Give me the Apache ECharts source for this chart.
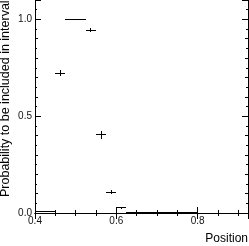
<!DOCTYPE html>
<html><head><meta charset="utf-8">
<script src="https://cdn.jsdelivr.net/npm/echarts@6/dist/echarts.min.js"></script>
<style>html,body{margin:0;padding:0;background:#fff}#c{width:249px;height:246px}</style>
</head><body><div id="c"></div>
<script>
// Histogram bins (lower edges), fixed bin width
const binLow = [0.400,0.425,0.450,0.475,0.500,0.525,0.550,0.575,0.600,0.625,0.650,0.675,0.700,0.725,0.750,0.775];
const binWidth = 0.025;
const probability = [0.007,0.007,0.723,1.000,1.000,0.945,0.404,0.108,0.028,0.003,0.003,0.003,0.003,0.003,0.003,0.003];
const probError   = [0.000,0.000,0.014,0.000,0.000,0.012,0.020,0.010,0.005,0.000,0.000,0.000,0.000,0.000,0.000,0.000];
const xTickLabels = ['0.4','0.6','0.8'];
const yTickLabels = ['0.0','0.5','1.0'];
const xTitle = 'Position';
const yTitle = 'Probability to be included in interval';

const data = binLow.map((lo, i) => [lo, lo + binWidth, probability[i], probError[i]]);

function pickLabel(list, v) {
  const f = list.find(l => Math.abs(parseFloat(l) - v) < 1e-6);
  return f === undefined ? '' : f;
}
const snap = v => Math.round(v - 0.5) + 0.5;

function renderItem(params, api) {
  const lo = api.value(0), hi = api.value(1), v = api.value(2), e = api.value(3);
  const a = api.coord([lo, v]), b = api.coord([hi, v]);
  const mid = (lo + hi) / 2;
  const t = api.coord([mid, v + e]), d = api.coord([mid, v - e]);
  const y = snap(a[1]);
  const xm = snap(t[0]);
  const children = [{
    type: 'line',
    shape: { x1: Math.round(a[0]), y1: y, x2: Math.round(b[0]), y2: y },
    style: { stroke: '#000', lineWidth: 1 }
  }];
  if (e > 0) {
    children.push({
      type: 'line',
      shape: { x1: xm, y1: Math.round(t[1]), x2: xm, y2: Math.round(d[1]) },
      style: { stroke: '#000', lineWidth: 1 }
    });
  }
  return { type: 'group', children };
}

const font = 'Liberation Sans';
const axisCommon = {
  axisLine: { show: true, lineStyle: { color: '#000', width: 1 } },
  splitLine: { show: false }
};
const XMAX = 0.924, YMAX = 1.1;

const chart = echarts.init(document.getElementById('c'), null, { renderer: 'canvas' });
chart.setOption({
  animation: false,
  backgroundColor: '#fff',
  grid: { left: 35, right: 1, top: 0, bottom: 33, containLabel: false },
  xAxis: [
    Object.assign({}, axisCommon, {
      type: 'value', min: 0.4, max: XMAX, interval: 0.2, position: 'bottom',
      axisTick: { show: true, inside: true, length: 6, lineStyle: { color: '#000' } },
      minorTick: { show: true, splitNumber: 4, length: 3, lineStyle: { color: '#000' } },
      axisLabel: { show: true, margin: 3, color: '#111', fontFamily: font, fontSize: 10,
        showMaxLabel: false, formatter: v => pickLabel(xTickLabels, v) }
    }),
    Object.assign({}, axisCommon, {
      type: 'value', min: 0.4, max: XMAX, interval: 0.2, position: 'top',
      axisTick: { show: true, inside: true, length: 6, lineStyle: { color: '#000' } },
      minorTick: { show: true, splitNumber: 4, length: 3, lineStyle: { color: '#000' } },
      axisLabel: { show: false }
    })
  ],
  yAxis: [
    Object.assign({}, axisCommon, {
      type: 'value', min: 0, max: YMAX, interval: 0.5, position: 'left',
      axisTick: { show: true, inside: true, length: 6, lineStyle: { color: '#000' } },
      minorTick: { show: true, splitNumber: 5, length: 3, lineStyle: { color: '#000' } },
      axisLabel: { show: true, margin: 3, color: '#111', fontFamily: font, fontSize: 10,
        showMaxLabel: false, formatter: v => pickLabel(yTickLabels, v) }
    }),
    Object.assign({}, axisCommon, {
      type: 'value', min: 0, max: YMAX, interval: 0.5, position: 'right',
      axisTick: { show: true, inside: true, length: 6, lineStyle: { color: '#000' } },
      minorTick: { show: true, splitNumber: 5, length: 3, lineStyle: { color: '#000' } },
      axisLabel: { show: false }
    }),
    {
      type: 'value', min: 0, max: YMAX, interval: 0.05, position: 'left',
      axisLine: { show: false }, splitLine: { show: false }, axisLabel: { show: false },
      axisTick: { show: true, inside: true, length: 2, lineStyle: { color: '#000' } }
    },
    {
      type: 'value', min: 0, max: YMAX, interval: 0.05, position: 'right',
      axisLine: { show: false }, splitLine: { show: false }, axisLabel: { show: false },
      axisTick: { show: true, inside: true, length: 2, lineStyle: { color: '#000' } }
    }
  ],
  graphic: [
    { type: 'text', right: 1, top: 233,
      style: { text: xTitle, fill: '#000', font: '12px "Liberation Sans"' } },
    { type: 'text', x: 6, y: 197, rotation: Math.PI / 2,
      style: { text: yTitle, fill: '#000', font: '12.5px "Liberation Sans"', align: 'left', verticalAlign: 'middle' } }
  ],
  series: [{
    type: 'custom',
    xAxisIndex: 0, yAxisIndex: 0,
    renderItem,
    data,
    clip: false,
    encode: { x: [0, 1], y: 2 }
  }]
});
</script></body></html>
